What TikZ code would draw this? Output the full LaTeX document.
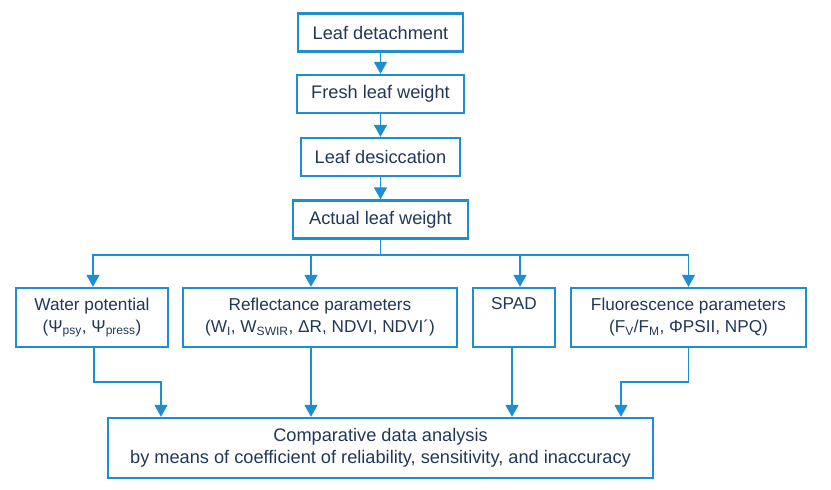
\documentclass[tikz,border=0pt]{standalone}
\usepackage{fontspec}
\setmainfont{Liberation Sans}
\usepackage{tikz}
\usetikzlibrary{arrows.meta,positioning,calc}
\definecolor{boxblue}{RGB}{30,142,208}
\definecolor{txtnavy}{RGB}{32,55,90}

\begin{document}
\begin{tikzpicture}[
    x=1pt, y=-1pt,
    every node/.style={text=txtnavy},
    stepbox/.style={draw=boxblue,line width=2.3pt,minimum height=38pt,
      inner sep=0pt,font=\fontsize{18.2}{21}\selectfont},
    parbox/.style={draw=boxblue,line width=2.3pt,minimum height=59pt,
      inner sep=0pt,align=center,font=\fontsize{17.2}{22}\selectfont},
    arr/.style={draw=boxblue,line width=1.6pt,
      -{Triangle[length=12pt,width=13pt]}},
    ln/.style={draw=boxblue,line width=1.6pt}
  ]
  \useasboundingbox (0,0) rectangle (831,490);
  % steps on the leaf
  \node[stepbox,minimum width=165pt] (det) at (380.5,32.5) {Leaf detachment};
  \node[stepbox,minimum width=167pt] (fresh) at (380.5,94) {Fresh leaf weight};
  \node[stepbox,minimum width=159pt] (desic) at (380.5,157) {Leaf desiccation};
  \node[stepbox,minimum width=175pt] (act) at (380.5,219.5) {Actual leaf weight};
  \draw[arr] (det) -- (fresh);
  \draw[arr] (fresh) -- (desic);
  \draw[arr] (desic) -- (act);
  % measured parameters
  \node[parbox,minimum width=152pt] (wat) at (92,317.5)
    {Water potential\\(Ψ\textsubscript{psy}, Ψ\textsubscript{press})};
  \node[parbox,minimum width=274pt] (refl) at (320,317.5)
    {Reflectance parameters\\(W\textsubscript{I}, W\textsubscript{SWIR}, ΔR, NDVI, NDVI´)};
  \node[parbox,minimum width=82pt] (spad) at (514,317.5) {SPAD\\\strut};
  \node[parbox,minimum width=235pt] (fluo) at (688.5,317.5)
    {Fluorescence parameters\\(F\textsubscript{V}/F\textsubscript{M}, ΦPSII, NPQ)};
  \coordinate (bus) at (380.5,255);
  \draw[ln] (act) -- (bus);
  \draw[arr] (bus) -| ([xshift=1pt]wat.north);
  \draw[arr] (bus) -| ([xshift=-9pt]refl.north);
  \draw[arr] (bus) -| ([xshift=6pt]spad.north);
  \draw[arr] (bus) -| (fluo.north);
  % analysis
  \node[parbox,minimum width=545pt,minimum height=60pt,
    font=\fontsize{18.2}{22}\selectfont] (res) at (380.5,448)
    {Comparative data analysis\\by means of coefficient of reliability, sensitivity, and inaccuracy};
  \draw[arr] ([xshift=2pt]wat.south) -- ++(0,34) -| ([xshift=-219.5pt]res.north);
  \draw[arr] ([xshift=-9pt]refl.south) -- ([xshift=-9pt]refl.south |- res.north);
  \draw[arr] ([xshift=-2pt]spad.south) -- ([xshift=-2pt]spad.south |- res.north);
  \draw[arr] (fluo.south) -- ++(0,34) -| ([xshift=240.5pt]res.north);
\end{tikzpicture}
\end{document}
